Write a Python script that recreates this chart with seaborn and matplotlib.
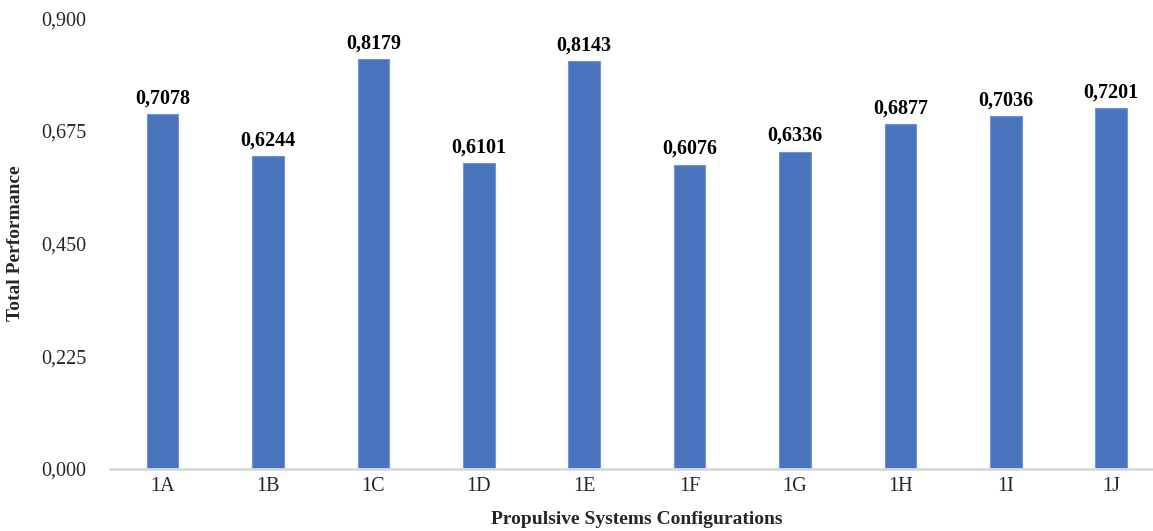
import matplotlib
matplotlib.use("Agg")
import matplotlib.pyplot as plt
import seaborn as sns
import pandas as pd

configs = ["1A", "1B", "1C", "1D", "1E", "1F", "1G", "1H", "1I", "1J"]
performance = [0.7078, 0.6244, 0.8179, 0.6101, 0.8143, 0.6076, 0.6336, 0.6877, 0.7036, 0.7201]
y_ticks = [0.0, 0.225, 0.45, 0.675, 0.9]

sns.set_theme(style="white")
plt.rcParams["font.family"] = ["Liberation Serif", "DejaVu Serif"]

df = pd.DataFrame({"config": configs, "perf": performance})

fig = plt.figure(figsize=(11.53, 5.31), dpi=100)
ax = fig.add_axes([0.0954, 0.1168, 0.914, 0.8492])

sns.barplot(data=df, x="config", y="perf", color="#4472C4", saturation=0.9,
            width=0.3, edgecolor="#7096d6", linewidth=0.8, ax=ax)

for i, v in enumerate(performance):
    ax.text(i, v + 0.011, f"{v:.4f}".replace(".", ","), ha="center", va="bottom",
            fontsize=14.5, fontweight="bold", color="black")

ax.set_ylim(0, 0.9)
ax.set_xlim(-0.5, len(configs) - 0.5)
ax.set_yticks(y_ticks)
ax.set_yticklabels([f"{t:.3f}".replace(".", ",") for t in y_ticks], fontsize=14.5)
ax.tick_params(axis="x", labelsize=14.5, pad=6, length=0)
ax.tick_params(axis="y", pad=17, length=0)

for s in ["top", "right", "left"]:
    ax.spines[s].set_visible(False)
ax.spines["bottom"].set_color("#d9d9d9")
ax.spines["bottom"].set_linewidth(2)
ax.grid(False)

ax.set_xlabel("Propulsive Systems Configurations", fontsize=14, fontweight="bold")
ax.set_ylabel("Total Performance", fontsize=14, fontweight="bold")
ax.xaxis.set_label_coords(0.5, -0.111)
ax.xaxis.label.set_va("center")
ax.yaxis.set_label_coords(-0.0892, 0.5)
ax.yaxis.label.set_va("center")

fig.savefig("out.png", dpi=100)
